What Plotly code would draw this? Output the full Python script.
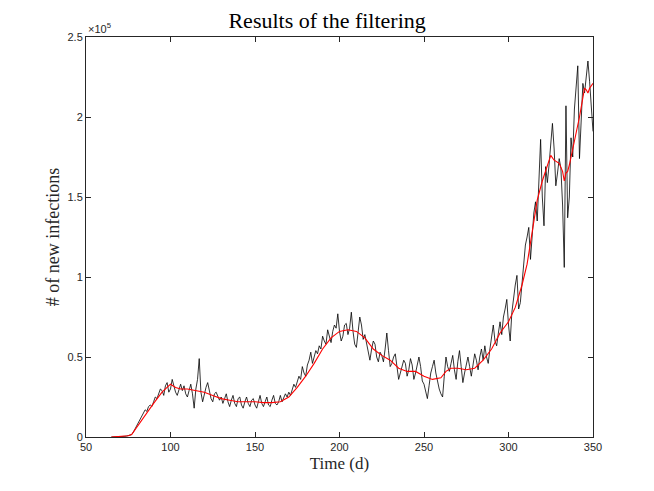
import plotly.graph_objects as go

# daily new infections, in thousands
days = list(range(65, 351))
raw_k = [
    # 65-76
    0, 0, 0, 0, 0, 0.1, 0.2, 0.3, 0.4, 0.6, 0.8, 1.0,
    # 77-100
    1.5, 3, 5, 7, 9, 10, 12, 15, 17, 16, 19, 20, 19, 22, 25, 24, 27, 30, 29, 26, 32, 34, 28, 30,
    # 101-130
    36, 31, 28, 26, 30, 33, 29, 32, 27, 25, 29, 33, 27, 18, 30, 36, 49, 28, 22, 27,
    31, 34, 29, 24, 22, 27, 28, 26, 23, 25,
    # 131-170
    21, 24, 27, 22, 19, 23, 26, 21, 19, 24, 25, 20, 18, 22, 25, 21, 19, 23, 24, 20,
    18, 22, 26, 21, 19, 22, 25, 20, 19, 23, 26, 21, 20, 22, 26, 22, 24, 27, 25, 28,
    # 171-200
    26, 30, 33, 31, 35, 38, 36, 44, 40, 38, 45, 48, 53, 46, 50, 54, 52, 57, 55, 63,
    60, 58, 67, 62, 59, 66, 70, 68, 77, 66,
    # 201-273
    60, 63, 70, 71, 64, 68, 78, 66, 58, 56, 68, 75, 70, 61, 64, 59, 52, 48, 55, 60,
    58, 50, 47, 53, 51, 47, 55, 65, 54, 44, 46, 50, 52, 42, 36, 40, 45, 48, 46, 38,
    42, 49, 45, 36, 40, 46, 50, 44, 35, 33, 28, 24, 32, 40, 44, 48, 40, 34, 30, 27,
    25, 38, 50, 44, 41, 46, 51, 42, 36, 47, 54, 44, 34,
    # 274-293
    40, 46, 50, 44, 38, 45, 52, 48, 42, 50, 55, 48, 57, 50, 46, 55, 62, 70, 60, 57,
    # 294-350
    65, 72, 64, 75, 80, 86, 70, 60, 78, 88, 95, 101, 80, 84, 95, 110, 120, 125, 131, 111,
    125, 140, 147, 135, 160, 186, 150, 132, 169, 159, 170, 185, 196, 180, 157, 165, 174, 168, 145, 106,
    207, 137, 150, 187, 175, 205, 220, 232, 174, 200, 221, 215, 225, 235, 222, 205, 191,
]

# filtered curve, in thousands
filt_days = [65, 70, 75, 77, 80, 85, 90, 95, 100, 103, 106, 110, 115, 120, 125, 130, 135, 140,
             145, 150, 155, 160, 165, 170, 175, 180, 185, 190, 195, 200, 205, 210, 215, 220,
             225, 230, 235, 240, 245, 250, 255, 260, 263, 266, 270, 275, 280, 285, 290, 295,
             300, 304, 308, 311, 314, 317, 320, 323, 325, 327, 330, 332, 333, 334, 335, 336,
             338, 340, 342, 344, 345, 346, 347, 348, 350]
filt_k = [0, 0.2, 0.8, 1.5, 6, 14, 21, 28, 33, 31, 30, 30, 29, 28, 26, 24, 23, 22,
          22, 22, 21.5, 21.5, 22, 25, 31, 38, 46, 55, 62, 66, 67, 66, 62, 55,
          51, 48, 43, 41, 41, 38, 36, 37, 41, 43, 43, 42, 43, 48, 55, 65,
          72, 81, 95, 108, 128, 148, 160, 170, 176, 173, 171, 166, 160, 165, 166, 170,
          181, 190, 200, 212, 218, 217, 215, 218, 221]

x_ticks = [50, 100, 150, 200, 250, 300, 350]
y_ticks = [0, 50, 100, 150, 200, 250]
y_ticktext = ["0", "0.5", "1", "1.5", "2", "2.5"]

fig = go.Figure()
fig.add_trace(go.Scatter(x=days, y=raw_k, mode="lines",
                         line=dict(color="black", width=0.8), showlegend=False))
fig.add_trace(go.Scatter(x=filt_days, y=filt_k, mode="lines",
                         line=dict(color="#ff0000", width=1.1), showlegend=False))

axis_style = dict(showline=True, linecolor="#262626", linewidth=1, mirror="ticks",
                  ticks="inside", ticklen=5, tickcolor="#262626", showgrid=False,
                  zeroline=False, tickfont=dict(family="Liberation Sans, Arial", size=11, color="#262626"))

fig.update_xaxes(range=[50, 350], tickvals=x_ticks,
                 title=dict(text="Time (d)", font=dict(family="Liberation Serif, serif", size=17, color="#262626"),
                            standoff=4),
                 **axis_style)
fig.update_yaxes(range=[0, 250], tickvals=y_ticks, ticktext=y_ticktext,
                 title=dict(text="# of new infections", font=dict(family="Liberation Serif, serif", size=18, color="#262626"),
                            standoff=3),
                 **axis_style)

fig.add_annotation(text="×10<sup>5</sup>", xref="paper", yref="paper", x=0, y=1,
                   xanchor="left", yanchor="bottom", showarrow=False,
                   font=dict(family="Liberation Sans, Arial", size=11, color="#262626"))

# page has an 8px body margin, so the figure is a bit smaller than the window
fig.update_layout(
    width=646, height=483,
    paper_bgcolor="white", plot_bgcolor="white",
    margin=dict(l=78, r=61, t=29, b=54),
    title=dict(text="Results of the filtering", x=0.494, xref="container", xanchor="center",
               y=0.99, yanchor="top",
               font=dict(family="Liberation Serif, serif", size=22, color="black")),
)

fig.write_html("out.html")
